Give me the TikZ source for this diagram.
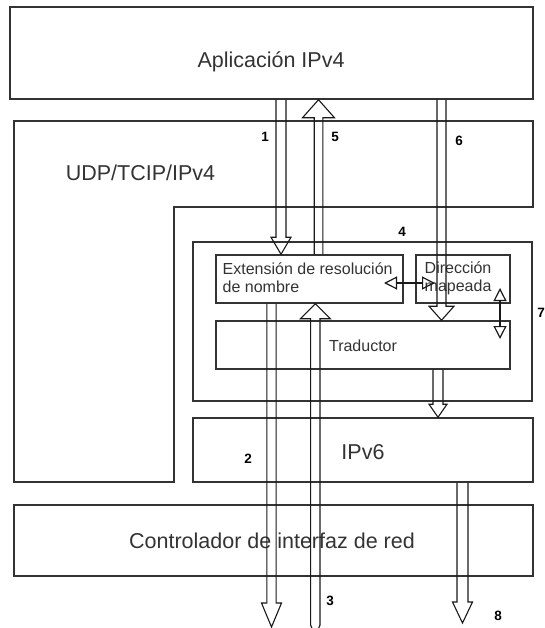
\documentclass[tikz,border=0pt]{standalone}
\usepackage{fontspec}
\setmainfont{Liberation Sans}
\usetikzlibrary{calc,arrows.meta}
\tikzset{
  boxline/.style={draw=black!80, line width=1.5pt},
  box/.style={boxline, rectangle, inner sep=0pt},
  lbl/.style={text=black!80, font=\fontsize{21.5}{24}\selectfont, inner sep=0pt},
  slbl/.style={text=black!80, font=\fontsize{16}{18}\selectfont, inner sep=0pt, align=left},
  num/.style={font=\fontsize{13.5}{15}\selectfont\bfseries, inner sep=0pt},
  arrline/.style={draw=black!90, line width=1.1pt, line join=miter},
  dblarr/.style={draw=black!90, line width=1.2pt,
    {Triangle[open,length=13pt,width=13pt]}-{Triangle[open,length=13pt,width=13pt]}}
}
% vertical block arrow: #1 x centre, #2 start point, #3 tip point,
% #4 shaft half width, #5 head half width, #6 head length
\newcommand{\vblk}[6]{%
  \draw[arrline] let \p1=(#2), \p2=(#3), \n1={sign(\y2-\y1)} in
    ({#1pt-#4pt},\y1) -- ({#1pt-#4pt},{\y2-\n1*#6pt}) -- ({#1pt-#5pt},{\y2-\n1*#6pt})
    -- (#1pt,\y2) -- ({#1pt+#5pt},{\y2-\n1*#6pt}) -- ({#1pt+#4pt},{\y2-\n1*#6pt})
    -- ({#1pt+#4pt},\y1);
}
\begin{document}
\begin{tikzpicture}[x=1pt,y=-1pt]
\useasboundingbox (0,0) rectangle (545,628);

% boxes
\node[box, minimum width=523pt, minimum height=92pt] (app) at (271.5,53) {};
\node[lbl] (apptext) at (271,62) {Aplicación IPv4};

\draw[boxline] (14,121) -- (533,121) -- (533,207) -- (174,207) -- (174,482) -- (14,482) -- cycle;
\node[lbl] (udptext) at (140.5,173) {UDP/TCIP/IPv4};

\node[box, minimum width=339pt, minimum height=159pt] (mid) at (362.5,321.5) {};
\node[box, minimum width=187pt, minimum height=48pt] (ext) at (309.5,279) {};
\node[slbl, anchor=west] (exttext) at (222.5,278) {Extensión de resolución\\de nombre};
\node[box, minimum width=94pt, minimum height=48pt] (dir) at (463,279) {};
\node[slbl, anchor=west] (dirtext) at (424.5,278) {Dirección\\mapeada};
\node[box, minimum width=294pt, minimum height=48pt] (trad) at (363,345) {};
\node[slbl] (tradtext) at (363,346) {Traductor};

\node[box, minimum width=340pt, minimum height=64pt] (ipv6) at (363,450) {};
\node[lbl] (ipv6text) at (363,452) {IPv6};

\node[box, minimum width=519pt, minimum height=71pt] (ctrl) at (273.5,540.5) {};
\node[lbl] (ctrltext) at (272,541) {Controlador de interfaz de red};

% free ends
\coordinate (end2) at (271.5,627);
\coordinate (end3) at (315.3,625);
\coordinate (end8) at (462.5,623);

% block arrows
\vblk{281}{app.south}{ext.north}{5}{10}{17}       % 1
\vblk{318.5}{ext.north}{app.south}{4.3}{16}{18}   % 5
\vblk{441.5}{app.south}{trad.north}{4.5}{12.5}{14}% 6
\vblk{271.5}{ext.south}{end2}{4.6}{10}{24}        % 2
\vblk{315.3}{end3}{ext.south}{4.7}{15}{15}        % 3
\draw[arrline] (310.6,625) arc[start angle=180, end angle=0, radius=4.7];
\vblk{438}{trad.south}{ipv6.north}{5}{9}{13}      % to IPv6
\vblk{462.5}{ipv6.south}{end8}{5.5}{10}{21}       % 8

% double-headed arrows
\coordinate (hl) at (384,283);
\coordinate (hr) at (435,283);
\draw[dblarr] (hl) -- (hr);
\coordinate (vt) at (500,288);
\coordinate (vb) at (500,339);
\draw[dblarr] (vt) -- (vb);

% numbers
\node[num] (n1) at (265,137) {1};
\node[num] (n5) at (335,137) {5};
\node[num] (n6) at (459,141) {6};
\node[num] (n4) at (402,232) {4};
\node[num] (n7) at (541,313) {7};
\node[num] (n2) at (248,459) {2};
\node[num] (n3) at (330,601) {3};
\node[num] (n8) at (498,616) {8};
\end{tikzpicture}
\end{document}
